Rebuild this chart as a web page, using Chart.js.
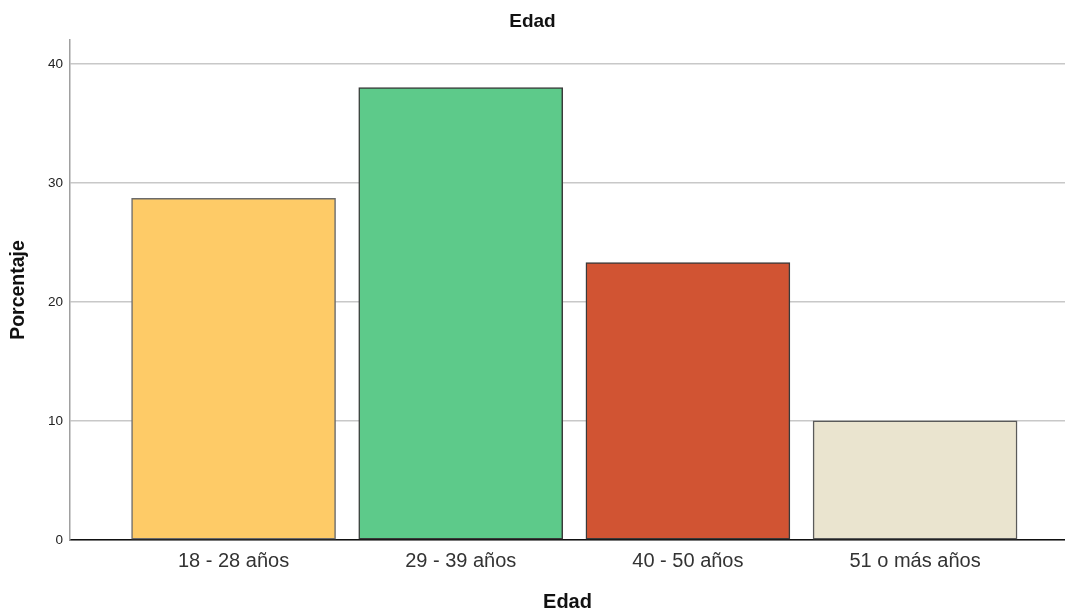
<!DOCTYPE html>
<html>
<head>
<meta charset="utf-8">
<script src="https://cdn.jsdelivr.net/npm/chart.js@4"></script>
<style>
  html, body { margin: 0; padding: 0; background: #fff; }
  #wrap { width: 1065px; height: 611px; }
</style>
</head>
<body>
<div id="wrap"><canvas id="chart" width="1065" height="611"></canvas></div>
<script>
const categories = ['18 - 28 años', '29 - 39 años', '40 - 50 años', '51 o más años'];
const porcentaje = [28.7, 38.0, 23.3, 10.0];
const yTicks = [0, 10, 20, 30, 40];

const fills = ['#fecb67', '#5dca8a', '#d15433', '#eae4cf'];
const edges = ['#6b6b6b', '#3a3a3a', '#3a3a3a', '#5a5a5a'];
const font = '"Liberation Sans", Arial, sans-serif';

new Chart(document.getElementById('chart'), {
  type: 'bar',
  data: {
    datasets: [{
      label: 'Porcentaje',
      data: porcentaje.map((v, i) => ({ x: i, y: v })),
      backgroundColor: fills,
      borderColor: edges,
      borderWidth: 1.5,
      borderSkipped: false,
      barThickness: 204
    }]
  },
  options: {
    responsive: false,
    animation: false,
    layout: { padding: 0 },
    plugins: {
      legend: { display: false },
      tooltip: { enabled: false },
      title: {
        display: true,
        text: 'Edad',
        color: '#111',
        font: { family: font, size: 19, weight: 'bold' },
        padding: { top: 10, bottom: 7.2 }
      }
    },
    scales: {
      x: {
        type: 'linear',
        offset: false,
        min: -0.72,
        max: 3.66,
        afterBuildTicks: s => { s.ticks = categories.map((_, i) => ({ value: i })); },
        afterFit: s => { s.height = 71; },
        grid: { display: false, drawTicks: false, offset: false },
        border: { color: '#111', width: 1.5 },
        ticks: {
          callback: v => categories[v],
          color: '#333',
          padding: 9,
          maxRotation: 0,
          autoSkip: false,
          font: { family: font, size: 20 }
        },
        title: {
          display: true,
          text: 'Edad',
          color: '#111',
          padding: { top: 0, bottom: -3 },
          font: { family: font, size: 20, weight: 'bold' }
        }
      },
      y: {
        min: 0,
        max: 42,
        afterBuildTicks: s => { s.ticks = yTicks.map(v => ({ value: v })); },
        afterFit: s => { s.width = 70; },
        grid: { color: '#c8c8c8', lineWidth: 1.5, drawTicks: false },
        border: { color: '#a0a0a0', width: 1.5 },
        ticks: {
          color: '#222',
          padding: 7,
          font: { family: font, size: 13.5 }
        },
        title: {
          display: true,
          text: 'Porcentaje',
          color: '#111',
          padding: { top: 7, bottom: 0 },
          font: { family: font, size: 19.5, weight: 'bold' }
        }
      }
    }
  }
});
</script>
</body>
</html>
